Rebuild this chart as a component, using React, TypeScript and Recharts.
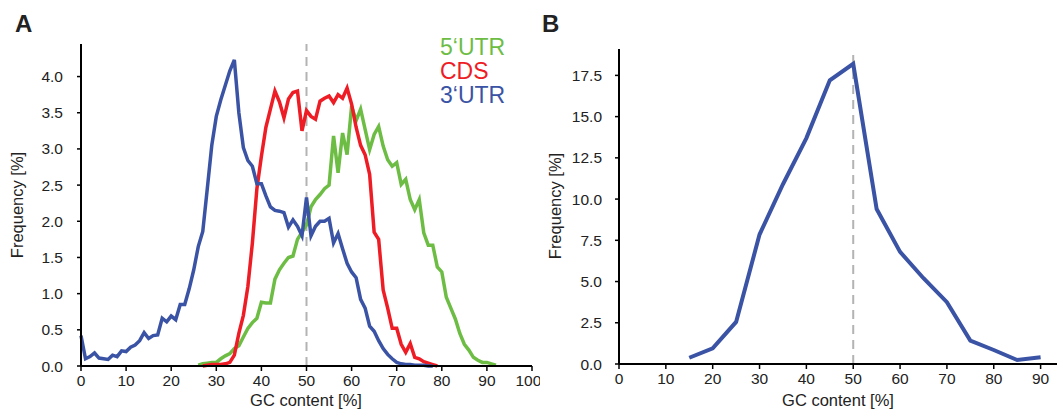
import { LineChart, Line, XAxis, YAxis, ReferenceLine } from "recharts"

// GC content distribution per transcript region (panel A), 1% bins
const utr3Start = 0
const utr3 = [
  0.42, 0.1, 0.13, 0.18, 0.11, 0.1, 0.09, 0.15, 0.13, 0.21,
  0.2, 0.26, 0.29, 0.35, 0.46, 0.38, 0.42, 0.43, 0.66, 0.61,
  0.69, 0.64, 0.85, 0.85, 1.07, 1.33, 1.65, 1.86, 2.45, 3.05,
  3.45, 3.68, 3.88, 4.08, 4.23, 3.5, 3.02, 2.84, 2.76, 2.52,
  2.52, 2.35, 2.2, 2.15, 2.14, 2.12, 1.92, 2.02, 1.93, 1.8,
  2.33, 1.8, 1.93, 2.0, 2.0, 2.04, 1.7, 1.83, 1.62, 1.42,
  1.3, 1.22, 0.92, 0.8, 0.55, 0.48, 0.35, 0.24, 0.16, 0.1,
  0.05, 0.03, 0.02, 0.02, 0.01, 0.01, 0.01, 0.0, 0.0,
]

const cdsStart = 27
const cds = [
  0.0, 0.01, 0.02, 0.02, 0.02, 0.03, 0.05, 0.15, 0.45, 0.7,
  1.1, 1.7, 2.45, 2.9, 3.3, 3.55, 3.8, 3.65, 3.43, 3.69,
  3.78, 3.8, 3.25, 3.53, 3.45, 3.41, 3.66, 3.7, 3.73, 3.64,
  3.75, 3.7, 3.84, 3.62, 3.3, 3.05, 2.92, 2.65, 1.85, 1.75,
  1.05, 0.8, 0.52, 0.52, 0.3, 0.19, 0.31, 0.12, 0.1, 0.06,
  0.04, 0.02, 0.0,
]

const utr5Start = 26
const utr5 = [
  0.01, 0.03, 0.04, 0.05, 0.05, 0.1, 0.14, 0.17, 0.24, 0.28,
  0.4, 0.52, 0.6, 0.66, 0.88, 0.87, 0.87, 1.2, 1.33, 1.42,
  1.5, 1.52, 1.75, 1.85, 1.95, 2.2, 2.3, 2.37, 2.45, 2.5,
  3.18, 2.67, 3.22, 2.92, 3.59, 3.39, 3.55, 3.27, 2.99, 3.2,
  3.31, 3.04, 2.85, 2.76, 2.81, 2.51, 2.58, 2.3, 2.16, 2.3,
  1.84, 1.67, 1.67, 1.37, 1.3, 0.95, 0.8, 0.65, 0.45, 0.3,
  0.22, 0.12, 0.08, 0.05, 0.05, 0.03, 0.01,
]

// panel B, 5% bins
const gcB = [15, 20, 25, 30, 35, 40, 45, 50, 55, 60, 65, 70, 75, 80, 85, 90]
const freqB = [0.38, 0.95, 2.55, 7.85, 10.9, 13.7, 17.2, 18.2, 9.4, 6.8, 5.2, 3.75, 1.42, 0.85, 0.24, 0.41]

const ticksXA = [0, 10, 20, 30, 40, 50, 60, 70, 80, 90, 100]
const ticksYA = [0, 0.5, 1, 1.5, 2, 2.5, 3, 3.5, 4]
const ticksXB = [0, 10, 20, 30, 40, 50, 60, 70, 80, 90]
const ticksYB = [0, 2.5, 5, 7.5, 10, 12.5, 15, 17.5]

const GREEN = "#6dbd45"
const RED = "#ee1d25"
const BLUE = "#3a53a4"
const FONT = "'Liberation Sans', Arial, sans-serif"

const pick = (arr: number[], start: number, gc: number) => {
  const i = gc - start
  return i >= 0 && i < arr.length ? arr[i] : undefined
}

const dataA = Array.from({ length: 93 }, (_, gc) => ({
  gc,
  utr3: pick(utr3, utr3Start, gc),
  cds: pick(cds, cdsStart, gc),
  utr5: pick(utr5, utr5Start, gc),
}))

const dataB = gcB.map((gc, i) => ({ gc, freq: freqB[i] }))

const tickStyle = { fontSize: 15.5, fill: "#222", fontFamily: FONT }
const axisStyle = { stroke: "#000", strokeWidth: 2 }
const tickLineStyle = { stroke: "#000", strokeWidth: 1.5 }

export default function App() {
  return (
    <div style={{ position: "absolute", left: 0, top: 0, width: 1057, height: 412, background: "#fff" }}>
      <div style={{ position: "absolute", left: 0, top: 0 }}>
        <LineChart width={540} height={412} data={dataA} margin={{ top: 44, right: 8, bottom: 16, left: 0 }}>
          <XAxis
            dataKey="gc"
            type="number"
            domain={[0, 100]}
            ticks={ticksXA}
            height={30}
            tick={tickStyle}
            tickSize={5}
            tickMargin={4}
            axisLine={axisStyle}
            tickLine={tickLineStyle}
          />
          <YAxis
            type="number"
            domain={[0, 4.45]}
            ticks={ticksYA}
            width={81}
            tickFormatter={(v: number) => v.toFixed(1)}
            tick={tickStyle}
            tickSize={4}
            tickMargin={14}
            axisLine={axisStyle}
            tickLine={tickLineStyle}
          />
          <ReferenceLine x={50} stroke="#b3b3b3" strokeWidth={2} strokeDasharray="9 6" />
          <Line type="linear" dataKey="utr5" stroke={GREEN} strokeWidth={3.5} dot={false} isAnimationActive={false} />
          <Line type="linear" dataKey="cds" stroke={RED} strokeWidth={3.5} dot={false} isAnimationActive={false} />
          <Line type="linear" dataKey="utr3" stroke={BLUE} strokeWidth={3.5} dot={false} isAnimationActive={false} />
        </LineChart>
      </div>
      <div style={{ position: "absolute", left: 540, top: 0 }}>
        <LineChart width={517} height={412} data={dataB} margin={{ top: 49, right: 0, bottom: 18, left: 0 }}>
          <XAxis
            dataKey="gc"
            type="number"
            domain={[0, 93.5]}
            ticks={ticksXB}
            height={30}
            tick={tickStyle}
            tickSize={5}
            tickMargin={4}
            axisLine={axisStyle}
            tickLine={tickLineStyle}
          />
          <YAxis
            type="number"
            domain={[0, 19.1]}
            ticks={ticksYB}
            width={79}
            tickFormatter={(v: number) => v.toFixed(1)}
            tick={tickStyle}
            tickSize={4}
            tickMargin={13}
            axisLine={axisStyle}
            tickLine={tickLineStyle}
          />
          <ReferenceLine x={50} stroke="#b3b3b3" strokeWidth={2} strokeDasharray="9 6" />
          <Line type="linear" dataKey="freq" stroke={BLUE} strokeWidth={4} dot={false} isAnimationActive={false} />
        </LineChart>
      </div>
      <svg width={1057} height={412} style={{ position: "absolute", left: 0, top: 0, pointerEvents: "none" }}>
        <g fontFamily={FONT}>
          <text x={15} y={32} fontSize={24} fontWeight="bold" fill="#222">A</text>
          <text x={542} y={32} fontSize={24} fontWeight="bold" fill="#222">B</text>

          <text x={440} y={55} fontSize={23} fill={GREEN}>5‘UTR</text>
          <text x={440} y={79} fontSize={23} fill={RED}>CDS</text>
          <text x={440} y={103} fontSize={23} fill={BLUE}>3‘UTR</text>

          <text x={306} y={406} fontSize={16.5} fill="#222" textAnchor="middle">GC content [%]</text>
          <text x={838} y={406} fontSize={16.5} fill="#222" textAnchor="middle">GC content [%]</text>

          <text x={23} y={205} fontSize={16.5} fill="#222" textAnchor="middle" transform="rotate(-90 23 205)">Frequency [%]</text>
          <text x={561} y={206} fontSize={16.5} fill="#222" textAnchor="middle" transform="rotate(-90 561 206)">Frequency [%]</text>
        </g>
      </svg>
    </div>
  )
}
